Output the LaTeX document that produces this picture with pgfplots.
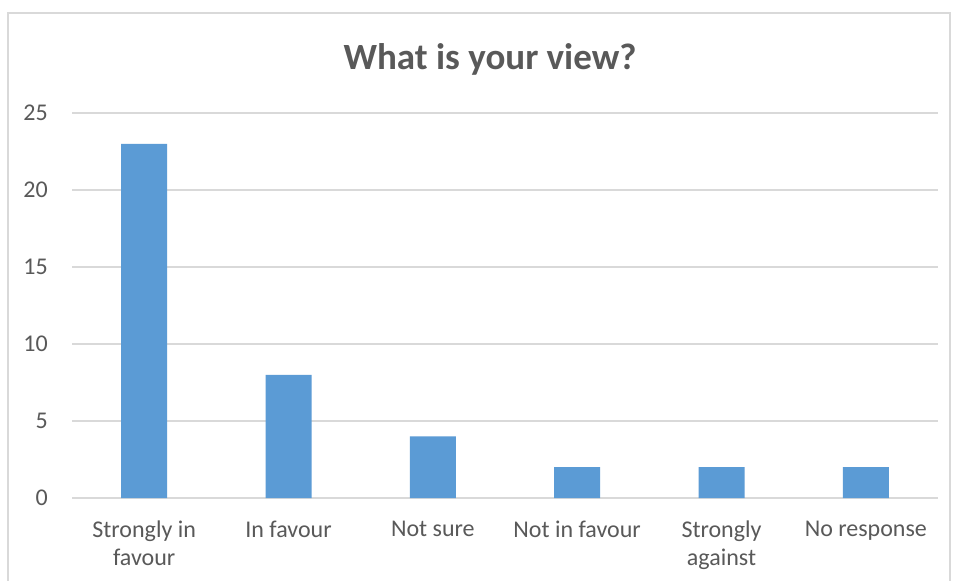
\documentclass[border=0pt]{standalone}
\usepackage{pgfplots}
\pgfplotsset{compat=1.18}
\usepackage{fontspec}
\setmainfont{Carlito}
\definecolor{cbar}{HTML}{5B9BD5}
\definecolor{cgrid}{HTML}{D9D9D9}
\definecolor{ctext}{HTML}{595959}
\begin{document}
\begin{tikzpicture}
\useasboundingbox[fill=white] (0,0) rectangle (955bp,-581bp);
\draw[cgrid, line width=1.5bp] (8bp,-13bp) rectangle (950bp,-620bp);
\node[text=ctext, font=\fontsize{37bp}{44bp}\selectfont\bfseries] at (490bp,-59bp) {What is your view?};
\begin{axis}[
  at={(72bp,-498bp)}, anchor=south west,
  width=866bp, height=385bp, scale only axis,
  xmin=-0.5, xmax=5.5, ymin=0, ymax=25,
  ytick={0,5,10,15,20,25},
  xtick={0,1,2,3,4,5},
  xticklabels={{Strongly in\\favour},{In favour},{Not sure},{Not in favour},{Strongly\\against},{No response}},
  axis lines*=left,
  axis line style={-},
  y axis line style={draw=none},
  x axis line style={draw=cgrid, line width=1.5bp},
  major tick length=0pt,
  ymajorgrids,
  grid style={cgrid, line width=1.2bp},
  /pgf/number format/assume math mode=true,
  tick label style={text=ctext, font=\fontsize{24bp}{28bp}\selectfont},
  xticklabel style={align=center, anchor=north, inner sep=0pt, yshift=-23bp},
  yticklabel style={anchor=east, inner sep=0pt, xshift=-24bp},
  ybar, bar width=46bp,
]
\addplot[fill=cbar, draw=none] coordinates {(0,23) (1,8) (2,4) (3,2) (4,2) (5,2)};
\end{axis}
\end{tikzpicture}
\end{document}
